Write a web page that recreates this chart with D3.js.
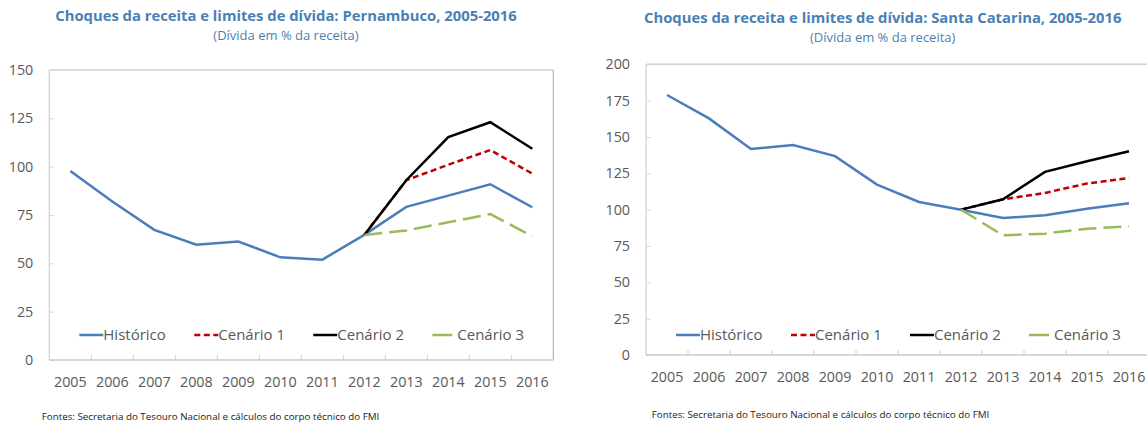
<!DOCTYPE html>
<meta charset="utf-8">
<script src="https://cdn.jsdelivr.net/npm/d3@7"></script>
<style>
    body { margin: 0; background: #fff; }
    text { font-family: "Open Sans", sans-serif; }
    .title { font-weight: 700; fill: #4a7fb5; }
    .subtitle { fill: #4a7fb5; }
    .tick-label { fill: #595959; }
    .legend-label { fill: #595959; }
    .source { fill: #222; }
</style>
<body>
<script>

    // categories
    var years = ["2005", "2006", "2007", "2008", "2009", "2010", "2011", "2012", "2013", "2014", "2015", "2016"];

    // Pernambuco
    var peHistorico = [97.8, 82, 67.3, 59.6, 61.3, 53.1, 51.9, 64.7, 79.2, 85, 90.9, 79];
    var peCenario1 = [null, null, null, null, null, null, null, 64.7, 93, 101, 108.6, 96.4];
    var peCenario2 = [null, null, null, null, null, null, null, 64.7, 93, 115.3, 123, 109.3];
    var peCenario3 = [null, null, null, null, null, null, null, 64.7, 67, 71.2, 75.5, 64];
    var peTicks = [0, 25, 50, 75, 100, 125, 150];

    // Santa Catarina
    var scHistorico = [178.9, 162.8, 141.8, 144.4, 136.8, 117.2, 105.3, 100, 94.2, 96.2, 100.6, 104.4];
    var scCenario1 = [null, null, null, null, null, null, null, 100, 107.1, 111.5, 118, 121.8];
    var scCenario2 = [null, null, null, null, null, null, null, 100, 107.1, 126, 133.3, 140.2];
    var scCenario3 = [null, null, null, null, null, null, null, 100, 82.3, 83.5, 86.9, 88.5];
    var scTicks = [0, 25, 50, 75, 100, 125, 150, 175, 200];

    var seriesNames = ["Histórico", "Cenário 1", "Cenário 2", "Cenário 3"];
    var subtitle = "(Dívida em % da receita)";
    var source = "Fontes: Secretaria do Tesouro Nacional e cálculos do corpo técnico do FMI";

    var styles = [
        { color: "#4a7ebb", dash: null },
        { color: "#c00000", dash: "6,3.5" },
        { color: "#000000", dash: null },
        { color: "#9bbb59", dash: "18,7" }
    ];

    var width = 1147, height = 425;

    var svg = d3.select("body").append("svg")
        .attr("width", width)
        .attr("height", height);

    var panels = [
        {
            title: "Choques da receita e limites de dívida: Pernambuco, 2005-2016",
            series: [peHistorico, peCenario1, peCenario2, peCenario3],
            ticks: peTicks,
            x0: 49.3, y0: 70, w: 504, h: 290,
            titleX: 286, titleY: 16, subY: 35.7,
            legendY: 335, sourceX: 41.7, sourceY: 416.7,
            rightColor: "#a6a6a6"
        },
        {
            title: "Choques da receita e limites de dívida: Santa Catarina, 2005-2016",
            series: [scHistorico, scCenario1, scCenario2, scCenario3],
            ticks: scTicks,
            x0: 646, y0: 64.3, w: 504, h: 290.7,
            titleX: 882.7, titleY: 18.3, subY: 37.7,
            legendY: 335, sourceX: 651.7, sourceY: 415,
            rightColor: "#bfbfbf"
        }
    ];

    var legendOffsets = [30, 145, 264, 383];

    panels.forEach(function (p) {

        var x = d3.scaleBand()
            .domain(years)
            .range([p.x0, p.x0 + p.w]);

        var y = d3.scaleLinear()
            .domain([0, d3.max(p.ticks)])
            .range([p.y0 + p.h, p.y0]);

        // titles
        svg.append("text")
            .attr("class", "title")
            .attr("x", p.titleX)
            .attr("y", p.titleY)
            .attr("dy", "0.35em")
            .style("font-size", "14.8px")
            .style("text-anchor", "middle")
            .text(p.title);

        svg.append("text")
            .attr("class", "subtitle")
            .attr("x", p.titleX)
            .attr("y", p.subY)
            .attr("dy", "0.35em")
            .style("font-size", "13px")
            .style("text-anchor", "middle")
            .text(subtitle);

        // plot frame
        svg.append("line")
            .attr("x1", p.x0).attr("x2", p.x0 + p.w)
            .attr("y1", p.y0).attr("y2", p.y0)
            .style("stroke", "#d0d0d0").style("stroke-width", 1.5);
        svg.append("line")
            .attr("x1", p.x0).attr("x2", p.x0)
            .attr("y1", p.y0).attr("y2", p.y0 + p.h)
            .style("stroke", "#d9d9d9").style("stroke-width", 1.5);
        svg.append("line")
            .attr("x1", p.x0 + p.w).attr("x2", p.x0 + p.w)
            .attr("y1", p.y0).attr("y2", p.y0 + p.h)
            .style("stroke", p.rightColor).style("stroke-width", 1);

        // y axis
        var yAxis = d3.axisLeft(y)
            .tickValues(p.ticks)
            .tickSize(-5)
            .tickPadding(16);

        var gy = svg.append("g")
            .attr("transform", "translate(" + p.x0 + ",0)")
            .call(yAxis);
        gy.select(".domain").remove();
        gy.selectAll(".tick line").style("stroke", "#d9d9d9");
        gy.selectAll(".tick text")
            .attr("class", "tick-label")
            .style("font-size", "14.3px")
            .style("font-family", "'Open Sans', sans-serif");

        // x axis: ticks between categories
        var xAxis = d3.axisBottom(x)
            .tickSize(0)
            .tickPadding(17);

        var gx = svg.append("g")
            .attr("transform", "translate(0," + (p.y0 + p.h) + ")")
            .call(xAxis);
        gx.select(".domain").remove();
        gx.selectAll(".tick text")
            .attr("class", "tick-label")
            .style("font-size", "14.3px")
            .style("font-family", "'Open Sans', sans-serif");

        svg.append("g")
            .selectAll("line")
            .data(years.slice(1))
            .enter()
            .append("line")
            .attr("x1", function (d) { return x(d); })
            .attr("x2", function (d) { return x(d); })
            .attr("y1", p.y0 + p.h)
            .attr("y2", p.y0 + p.h - 5)
            .style("stroke", "#d0d0d0");

        svg.append("line")
            .attr("x1", p.x0).attr("x2", p.x0 + p.w)
            .attr("y1", p.y0 + p.h).attr("y2", p.y0 + p.h)
            .style("stroke", "#c8c8c8").style("stroke-width", 1.5);

        // series lines
        var line = d3.line()
            .defined(function (d) { return d != null; })
            .x(function (d, i) { return x(years[i]) + x.bandwidth() / 2; })
            .y(function (d) { return y(d); });

        p.series.forEach(function (s, i) {
            svg.append("path")
                .datum(s)
                .attr("d", line)
                .style("fill", "none")
                .style("stroke", styles[i].color)
                .style("stroke-width", 2.5)
                .style("stroke-dasharray", styles[i].dash);
        });

        // legend
        seriesNames.forEach(function (name, i) {
            var lx = p.x0 + legendOffsets[i];
            svg.append("line")
                .attr("x1", lx).attr("x2", lx + 24)
                .attr("y1", p.legendY).attr("y2", p.legendY)
                .style("stroke", styles[i].color)
                .style("stroke-width", 2.5)
                .style("stroke-dasharray", i == 3 ? "20,10" : styles[i].dash);
            svg.append("text")
                .attr("class", "legend-label")
                .attr("x", lx + (i == 3 ? 25 : 24))
                .attr("y", p.legendY)
                .attr("dy", "0.35em")
                .style("font-size", "15px")
                .text(name);
        });

        // source
        svg.append("text")
            .attr("class", "source")
            .attr("x", p.sourceX)
            .attr("y", p.sourceY)
            .attr("dy", "0.35em")
            .style("font-size", "9.8px")
            .text(source);
    });

</script>
</body>
